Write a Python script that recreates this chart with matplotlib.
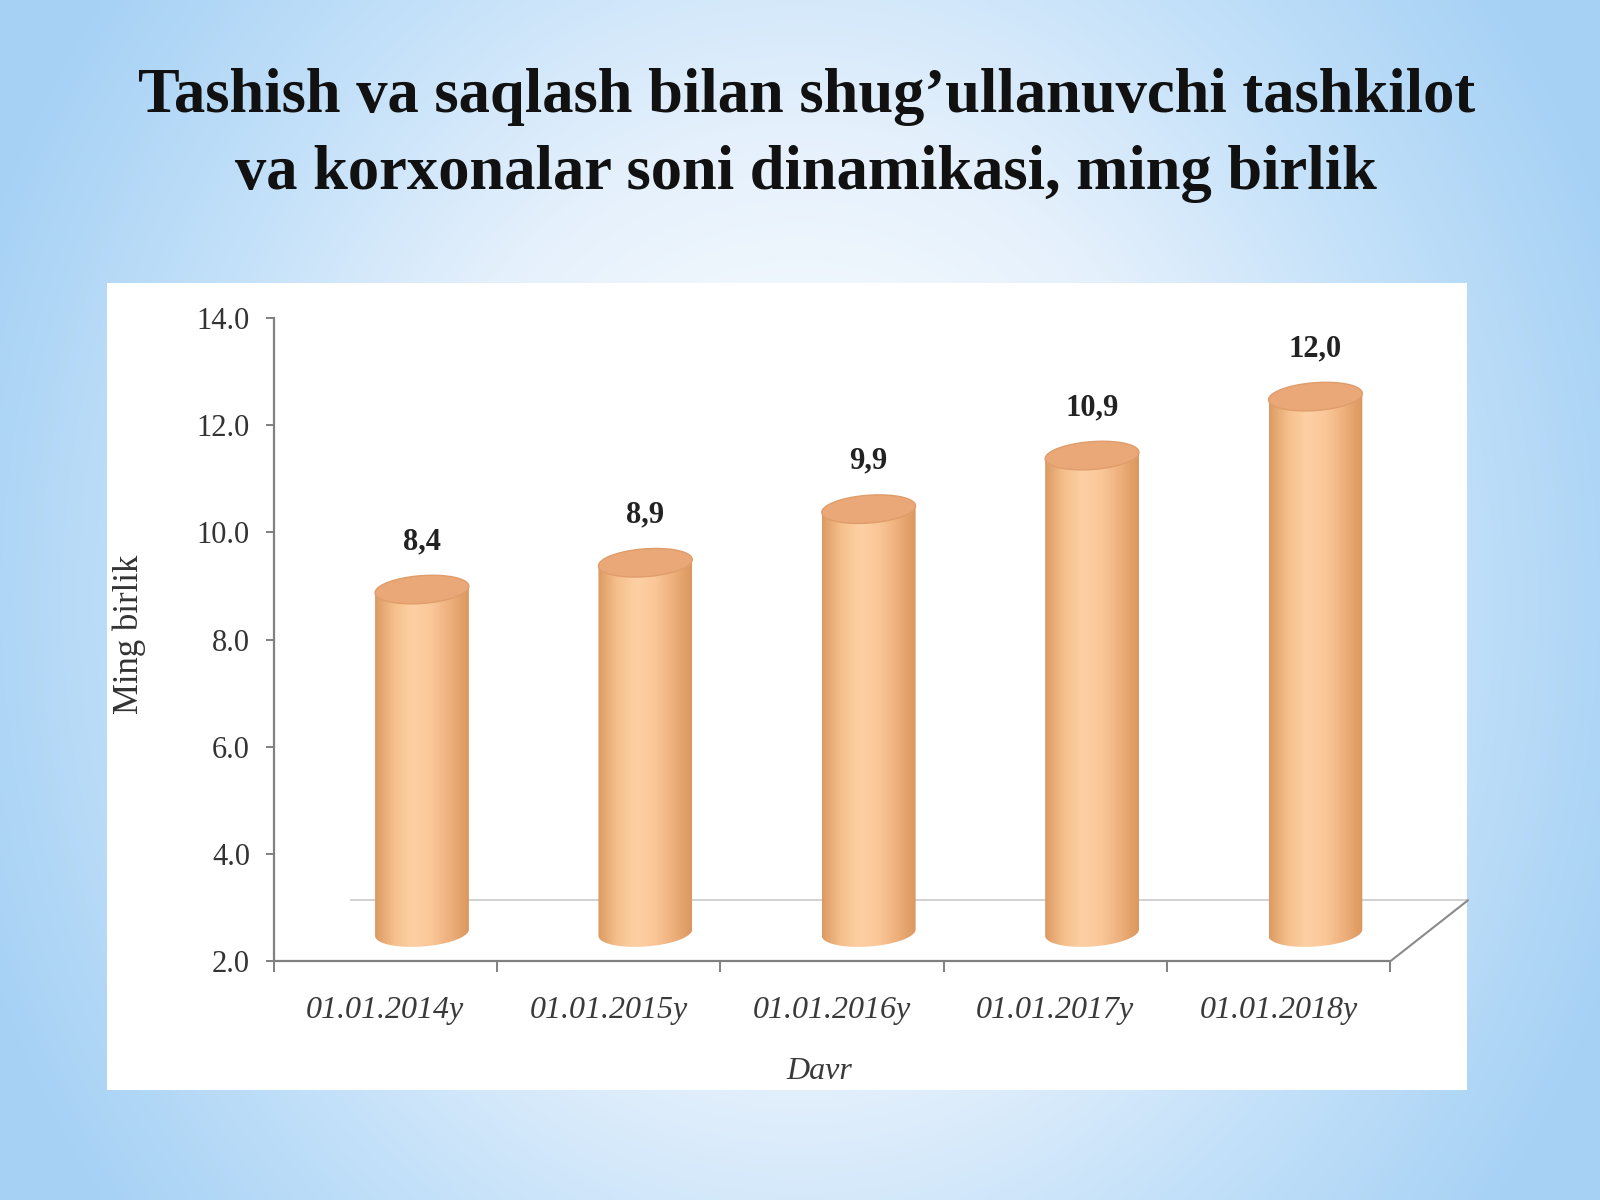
import numpy as np
import matplotlib.pyplot as plt
from matplotlib.patches import Polygon, Rectangle
from matplotlib.transforms import ScaledTranslation
from matplotlib.colors import LinearSegmentedColormap

# data
periods = ["01.01.2014y", "01.01.2015y", "01.01.2016y", "01.01.2017y", "01.01.2018y"]
values = [8.4, 8.9, 9.9, 10.9, 12.0]
value_labels = ["8,4", "8,9", "9,9", "10,9", "12,0"]
y_ticks = [2.0, 4.0, 6.0, 8.0, 10.0, 12.0, 14.0]

title_lines = ["Tashish va saqlash bilan shug\u2019ullanuvchi tashkilot",
               "va korxonalar soni dinamikasi, ming birlik"]

plt.rcParams["font.family"] = ["Liberation Serif", "DejaVu Serif"]

fig = plt.figure(figsize=(16, 12), dpi=100)

# slide background: pale centre, light blue edges
bg = fig.add_axes([0, 0, 1, 1], zorder=-10)
yy, xx = np.mgrid[0:1:300j, 0:1:400j]
r = np.sqrt(((xx - 0.5) / 0.55) ** 2 + ((yy - 0.5) / 0.85) ** 2)
bg_cmap = LinearSegmentedColormap.from_list("bg", ["#f7fbfe", "#e4f0fc", "#c2e0f9", "#a6d1f5"])
bg.imshow(r, cmap=bg_cmap, extent=[0, 1, 0, 1], aspect="auto", vmin=0.2, vmax=1.0,
          interpolation="bicubic")
bg.axis("off")

# white chart panel
fig.add_artist(Rectangle((0.067, 0.092), 0.85, 0.672, transform=fig.transFigure,
                         facecolor="white", edgecolor="none", zorder=-5))

ax = fig.add_axes([0.171, 0.199, 0.698, 0.536])
ax.set_facecolor("none")

# 3d offsets (inches): bars sit half way into the floor depth
bar_shift = ScaledTranslation(0.367, 0.286, fig.dpi_scale_trans)
floor_shift = ScaledTranslation(0.776, 0.61, fig.dpi_scale_trans)
bar_tr = ax.transData + bar_shift

base = y_ticks[0]
half_w = 0.21
eb = 0.26      # vertical semi-axis of ellipses (data units)
tilt = 0.06    # ellipses rise slightly to the right

side_cmap = LinearSegmentedColormap.from_list(
    "cyl", ["#dc9a62", "#f6bf8c", "#fdd0a4", "#fbc799", "#eeb07c", "#db975e"])
grad = np.linspace(0, 1, 200).reshape(1, -1)

for i, v in enumerate(values):
    t_low = np.linspace(np.pi, 2 * np.pi, 60)
    bx = i + half_w * np.cos(t_low)
    by = base + eb * np.sin(t_low) + tilt * np.cos(t_low)
    tx = bx[::-1]
    ty = (v + eb * np.sin(t_low) + tilt * np.cos(t_low))[::-1]
    side = Polygon(np.column_stack([np.r_[bx, tx], np.r_[by, ty]]), closed=True,
                   facecolor="none", edgecolor="none", transform=bar_tr)
    ax.add_patch(side)
    im = ax.imshow(grad, cmap=side_cmap, aspect="auto", interpolation="bicubic",
                   extent=[i - half_w, i + half_w, base - eb - 0.1, v + eb + 0.1],
                   transform=bar_tr, zorder=2)
    im.set_clip_path(side)

    t_all = np.linspace(0, 2 * np.pi, 120)
    top = Polygon(np.column_stack([i + half_w * np.cos(t_all),
                                   v + eb * np.sin(t_all) + tilt * np.cos(t_all)]),
                  closed=True, facecolor="#eaa777", edgecolor="#e09d6b", lw=1,
                  transform=bar_tr, zorder=3)
    ax.add_patch(top)

    ax.annotate(value_labels[i], xy=(i, v), xytext=(26.4, 55), textcoords="offset points",
                ha="center", va="center", fontsize=22, fontweight="bold", color="#222222")

# floor back edge and right side edge
ax.plot([-0.5, 4.5], [base, base], color="#c9c9c9", lw=1.2,
        transform=ax.transData + floor_shift, clip_on=False, zorder=1)
ax.annotate("", xy=(4.5, base), xytext=(55.9, 43.9), textcoords="offset points",
            arrowprops=dict(arrowstyle="-", color="#8a8a8a", lw=1.5, shrinkA=0, shrinkB=0))

ax.set_xlim(-0.5, 4.5)
ax.set_ylim(y_ticks[0], y_ticks[-1])

for side_name in ("top", "right"):
    ax.spines[side_name].set_visible(False)
for side_name in ("left", "bottom"):
    ax.spines[side_name].set_color("#808080")
    ax.spines[side_name].set_linewidth(1.6)

ax.set_yticks(y_ticks)
ax.set_yticklabels([f"{t:.1f}" for t in y_ticks], fontsize=22, color="#333333")
ax.tick_params(axis="y", length=6, width=1.4, color="#808080", pad=11)

ax.set_xticks(range(len(periods)))
ax.set_xticklabels(periods, fontsize=23, style="italic", color="#3a3a3a")
ax.set_xticks(np.arange(-0.5, len(periods)), minor=True)
ax.tick_params(axis="x", which="major", length=0, pad=25)
ax.tick_params(axis="x", which="minor", length=8, width=1.4, color="#808080")

fig.text(0.081, 0.471, "Ming birlik", rotation=90, ha="center", va="center",
         fontsize=25, color="#333333")
fig.text(0.512, 0.107, "Davr", ha="center", va="center", fontsize=23,
         style="italic", color="#3a3a3a")

fig.text(0.504, 0.9067, title_lines[0], ha="center", va="baseline",
         fontsize=45, fontweight="bold", color="#111111")
fig.text(0.504, 0.8425, title_lines[1], ha="center", va="baseline",
         fontsize=45, fontweight="bold", color="#111111")

fig.savefig("out.png", dpi=100)
